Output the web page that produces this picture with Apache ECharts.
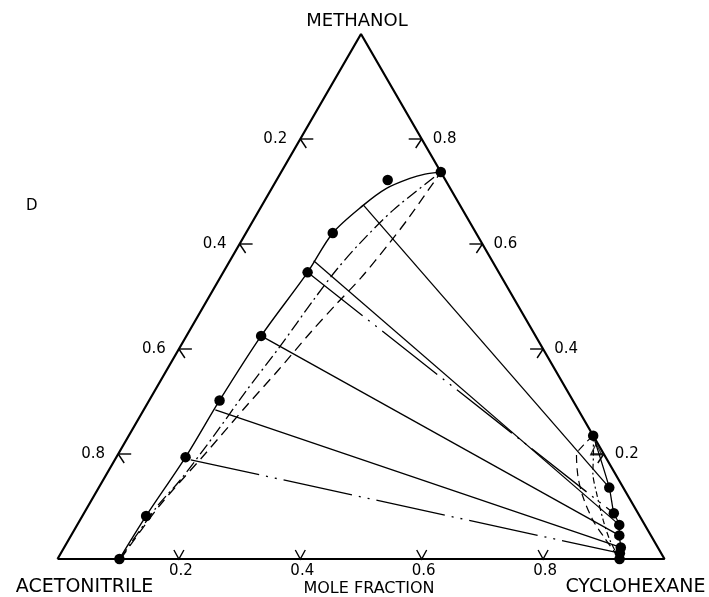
<!DOCTYPE html>
<html>
<head>
<meta charset="utf-8">
<script src="https://cdn.jsdelivr.net/npm/echarts@6/dist/echarts.min.js"></script>
<style>
html,body{margin:0;padding:0;background:#fff;}
#chart{width:709px;height:597px;}
</style>
</head>
<body>
<div id="chart"></div>
<script>
// Ternary compositions given as [methanol, cyclohexane]; acetonitrile = 1 - both.
const vertexNames = ['ACETONITRILE', 'CYCLOHEXANE', 'METHANOL'];
const axisTitle = 'MOLE FRACTION';
const panelLabel = 'D';
const tickValues = [0.2, 0.4, 0.6, 0.8];
const tickLabels = ['0.2', '0.4', '0.6', '0.8'];

// Experimental points, acetonitrile-rich phase
const leftPhasePoints = [
  [0.000, 0.102], [0.082, 0.105], [0.194, 0.114], [0.302, 0.116], [0.425, 0.123],
  [0.546, 0.139], [0.621, 0.143], [0.722, 0.183], [0.737, 0.263]
];
// Experimental points, cyclohexane-rich phase
const rightPhasePoints = [
  [0.235, 0.765], [0.136, 0.841], [0.087, 0.873], [0.065, 0.893], [0.045, 0.903],
  [0.022, 0.917], [0.011, 0.921], [0.000, 0.926]
];
const openTrianglePoint = [[0.209, 0.783]];

// Smoothed experimental binodal (solid)
const leftBinodal = [
  [0.000, 0.102], [0.082, 0.105], [0.194, 0.114], [0.302, 0.116], [0.425, 0.123],
  [0.546, 0.139], [0.621, 0.143], [0.674, 0.167], [0.706, 0.189], [0.725, 0.218],
  [0.733, 0.239], [0.737, 0.263]
];
const rightBinodal = [
  [0.235, 0.765], [0.136, 0.841], [0.087, 0.873], [0.065, 0.893], [0.045, 0.903],
  [0.022, 0.917], [0.011, 0.921], [0.000, 0.926]
];
// Model curve 1 (dash-dot)
const leftModelDashDot = [
  [0.000, 0.103], [0.100, 0.114], [0.150, 0.127], [0.233, 0.140], [0.322, 0.151],
  [0.404, 0.164], [0.493, 0.175], [0.550, 0.184], [0.600, 0.197], [0.665, 0.221], [0.737, 0.263]
];
const rightModelDashDot = [
  [0.235, 0.765], [0.202, 0.782], [0.164, 0.800], [0.126, 0.825], [0.074, 0.862],
  [0.036, 0.892], [0.000, 0.926]
];
// Model curve 2 (dashed)
const leftModelDashed = [
  [0.000, 0.104], [0.100, 0.117], [0.200, 0.143], [0.290, 0.165], [0.360, 0.184],
  [0.431, 0.201], [0.487, 0.217], [0.535, 0.232], [0.602, 0.246], [0.652, 0.254], [0.737, 0.263]
];
const rightModelDashed = [
  [0.235, 0.765], [0.217, 0.758], [0.198, 0.756], [0.157, 0.779], [0.119, 0.806],
  [0.074, 0.845], [0.043, 0.878], [0.017, 0.907], [0.000, 0.926]
];
// Tie lines
const tieLinesSolid = [
  [[0.674, 0.167], [0.136, 0.841]],
  [[0.568, 0.138], [0.065, 0.893]],
  [[0.425, 0.123], [0.045, 0.903]],
  [[0.284, 0.118], [0.022, 0.917]]
];
const tieLinesDashDot = [
  [[0.546, 0.139], [0.087, 0.873]],
  [[0.189, 0.125], [0.011, 0.921]]
];

const H = Math.sqrt(3) / 2;
function xy(p) { return [p[1] + p[0] / 2, p[0] * H]; }
const mapPts = arr => arr.map(xy);

const black = '#000';
const series = [];

// frame
series.push({
  type: 'line', data: mapPts([[0, 0], [0, 1], [1, 0], [0, 0]]), symbol: 'none',
  lineStyle: { color: black, width: 2.2 }, silent: true, z: 3
});

function curve(data, type, width, smooth) {
  series.push({
    type: 'line', data: mapPts(data), symbol: 'none', smooth: smooth,
    lineStyle: { color: black, width: width, type: type, cap: 'butt' }, silent: true, z: 2
  });
}
curve(leftBinodal, 'solid', 1.4, 0.3);
curve(rightBinodal, 'solid', 1.3, 0.2);
curve(leftModelDashDot, [12, 4, 2, 4], 1.3, 0.3);
curve(rightModelDashDot, [6, 3, 2, 3], 1.2, 0.3);
curve(leftModelDashed, [10, 6], 1.3, 0.3);
curve(rightModelDashed, [8, 5], 1.2, 0.3);
tieLinesSolid.forEach(t => curve(t, 'solid', 1.3, false));
tieLinesDashDot.forEach(t => curve(t, [70, 7, 2, 7, 2, 7], 1.3, false));

series.push({
  type: 'scatter', data: mapPts(leftPhasePoints.concat(rightPhasePoints)),
  symbol: 'circle', symbolSize: 10.5, itemStyle: { color: black, opacity: 1 }, silent: true, z: 5
});
series.push({
  type: 'scatter', data: mapPts(openTrianglePoint), symbol: 'triangle', symbolSize: 11,
  itemStyle: { color: 'transparent', borderColor: black, borderWidth: 1.3 }, silent: true, z: 5
});

// ticks: side 0 = bottom (cyclohexane), 1 = left (acetonitrile), 2 = right (methanol)
function edgePoint(side, v) {
  if (side === 0) return xy([0, v]);
  if (side === 1) return xy([1 - v, 0]);
  return xy([v, 1 - v]);
}
const tickData = [];
tickValues.forEach((v, i) => { for (let s = 0; s < 3; s++) tickData.push([...edgePoint(s, v), s, i]); });
series.push({
  type: 'custom', silent: true, z: 4,
  data: tickData,
  renderItem: function (params, api) {
    const p = api.coord([api.value(0), api.value(1)]);
    const s = api.value(2);
    const lab = tickLabels[api.value(3)];
    const ls = { stroke: black, lineWidth: 1.4, fill: null };
    const font = '15px "DejaVu Sans"';
    let shapes, tx, ty;
    if (s === 0) {
      shapes = [[[p[0] - 5, p[1] - 9], [p[0], p[1]], [p[0] + 5, p[1] - 9]]];
      tx = p[0] + 2; ty = p[1] + 12;
    } else if (s === 1) {
      shapes = [[[p[0], p[1]], [p[0] + 13, p[1]]], [[p[0], p[1]], [p[0] + 6, p[1] + 9]]];
      tx = p[0] - 25; ty = p[1];
    } else {
      shapes = [[[p[0], p[1]], [p[0] - 13, p[1]]], [[p[0], p[1]], [p[0] - 6, p[1] + 9]]];
      tx = p[0] + 23; ty = p[1];
    }
    const children = shapes.map(pts => ({ type: 'polyline', shape: { points: pts }, style: ls }));
    children.push({
      type: 'text', x: tx, y: ty,
      style: { text: lab, font: font, fill: black, align: 'center', verticalAlign: 'middle' }
    });
    return { type: 'group', children: children };
  }
});

// vertex names and axis title
const nameData = [
  [...xy([0, 0]), 27, 28, 0], [...xy([0, 1]), -29, 28, 1], [...xy([1, 0]), -4, -13, 2],
  [...xy([0, 0.5]), 8, 30, 3]
];
series.push({
  type: 'custom', silent: true, z: 4, data: nameData,
  renderItem: function (params, api) {
    const p = api.coord([api.value(0), api.value(1)]);
    const k = api.value(4);
    const text = k < 3 ? vertexNames[k] : axisTitle;
    const size = k < 2 ? 19 : (k === 2 ? 18 : 16);
    return {
      type: 'text', x: p[0] + api.value(2), y: p[1] + api.value(3),
      style: { text: text, font: size + 'px "DejaVu Sans"', fill: black, align: 'center', verticalAlign: 'middle' }
    };
  }
});

const chart = echarts.init(document.getElementById('chart'), null, { renderer: 'canvas' });
chart.setOption({
  animation: false,
  backgroundColor: '#fff',
  grid: { left: 57.5, right: 44.5, top: 34, bottom: 38 },
  xAxis: { type: 'value', min: 0, max: 1, show: false },
  yAxis: { type: 'value', min: 0, max: H, show: false },
  graphic: [{
    type: 'text', left: 26, top: 199,
    style: { text: panelLabel, font: '15px "DejaVu Sans"', fill: black }
  }],
  series: series
});
</script>
</body>
</html>
